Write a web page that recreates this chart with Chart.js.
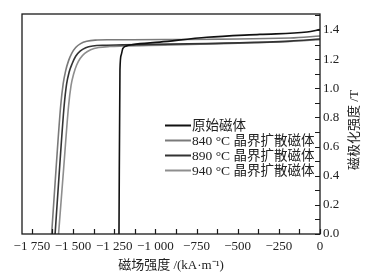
<!DOCTYPE html>
<html>
<head>
<meta charset="utf-8">
<script src="https://cdn.jsdelivr.net/npm/chart.js@4"></script>
<style>
html,body{margin:0;padding:0;background:#fff;}
#wrap{width:366px;height:274px;position:relative;}
</style>
</head>
<body>
<div id="wrap"><canvas id="c" width="366" height="274"></canvas></div>
<script>
// ---- data (H in kA/m, B in T) ----
const seriesLabels = ['原始磁体', '840 °C 晶界扩散磁体', '890 °C 晶界扩散磁体', '940 °C 晶界扩散磁体'];
const hOriginal = [-1221, -1215, -1207, -1198, -1176, -1137, -973, -687, -365, -79, 0];
const bOriginal = [0, 1.128, 1.231, 1.272, 1.290, 1.300, 1.317, 1.350, 1.370, 1.386, 1.403];
const h840 = [-1630, -1603, -1575, -1560, -1545, -1527, -1508, -1484, -1454, -1417, -1365, -1277, -182, 0];
const b840 = [0, 0.45, 0.88, 1.03, 1.12, 1.19, 1.24, 1.28, 1.307, 1.323, 1.331, 1.333, 1.345, 1.359];
const h890 = [-1609, -1582, -1554, -1539, -1524, -1505, -1484, -1457, -1423, -1381, -1308, -1198, -182, 0];
const b890 = [0, 0.45, 0.88, 1.03, 1.11, 1.17, 1.22, 1.255, 1.278, 1.29, 1.296, 1.298, 1.324, 1.338];
const h940 = [-1588, -1557, -1527, -1512, -1496, -1478, -1457, -1429, -1393, -1344, -1277, -1186, -182, 0];
const b940 = [0, 0.45, 0.88, 1.02, 1.10, 1.16, 1.205, 1.24, 1.265, 1.28, 1.287, 1.290, 1.321, 1.334];
const xTickValues = [-1750, -1625, -1500, -1375, -1250, -1125, -1000, -875, -750, -625, -500, -375, -250, -125, 0];
const yTickValues = [0, 0.1, 0.2, 0.3, 0.4, 0.5, 0.6, 0.7, 0.8, 0.9, 1.0, 1.1, 1.2, 1.3, 1.4, 1.5];
const xTitle = '磁场强度 /(kA·m⁻¹)';
const yTitle = '磁极化强度 /T';

const seriesColors = ['#111111', '#7a7a7a', '#333333', '#8e8e8e'];
const FONT = "'Liberation Serif', 'Noto Sans CJK SC', serif";

function pts(h, b) { return h.map((v, i) => ({x: v, y: b[i]})); }

function fmtX(v) {
  if (v === 0) return '0';
  const a = Math.abs(v);
  let s = String(a);
  if (a >= 1000) s = s.slice(0, s.length - 3) + ' ' + s.slice(-3);
  return '\u2212' + s;
}

const framePlugin = {
  id: 'frame',
  afterDraw(chart) {
    const {ctx, chartArea: a} = chart;
    const xs = chart.scales.x, ys = chart.scales.y;
    ctx.save();
    ctx.strokeStyle = '#1a1a1a';
    ctx.lineWidth = 1.3;
    ctx.strokeRect(a.left, a.top, a.right - a.left, a.bottom - a.top);
    ctx.lineWidth = 1.2;
    ctx.beginPath();
    xs.ticks.forEach(t => {
      const px = Math.round(xs.getPixelForValue(t.value)) + 0.5;
      ctx.moveTo(px, a.bottom);
      ctx.lineTo(px, a.bottom - 5);
    });
    ys.ticks.forEach(t => {
      const py = Math.round(ys.getPixelForValue(t.value)) + 0.5;
      ctx.moveTo(a.right, py);
      ctx.lineTo(a.right - 5, py);
    });
    ctx.stroke();
    // y title (reads bottom to top)
    ctx.fillStyle = '#222';
    ctx.font = '13px ' + FONT;
    ctx.textAlign = 'center';
    ctx.textBaseline = 'middle';
    ctx.translate(355, 130);
    ctx.rotate(-Math.PI / 2);
    ctx.fillText(yTitle, 0, 0);
    ctx.restore();
    // legend
    ctx.save();
    ctx.font = '13.5px ' + FONT;
    ctx.textAlign = 'left';
    ctx.textBaseline = 'middle';
    chart.data.datasets.forEach((ds, i) => {
      const y = 125.5 + i * 15;
      ctx.strokeStyle = ds.borderColor;
      ctx.lineWidth = 2;
      ctx.beginPath();
      ctx.moveTo(165, y);
      ctx.lineTo(191, y);
      ctx.stroke();
      ctx.fillStyle = '#222';
      ctx.fillText(ds.label, 192, y + 0.5);
    });
    ctx.restore();
  }
};

const datasets = [
  [hOriginal, bOriginal],
  [h840, b840],
  [h890, b890],
  [h940, b940]
].map((d, i) => ({
  label: seriesLabels[i],
  data: pts(d[0], d[1]),
  borderColor: seriesColors[i],
  borderWidth: 1.6,
  pointRadius: 0,
  fill: false,
  cubicInterpolationMode: 'monotone'
}));

new Chart(document.getElementById('c'), {
  type: 'line',
  data: {datasets},
  plugins: [framePlugin],
  options: {
    responsive: false,
    animation: false,
    devicePixelRatio: 1,
    layout: {padding: {left: 22, top: 14, right: 0, bottom: 0}},
    plugins: {legend: {display: false}, tooltip: {enabled: false}},
    scales: {
      x: {
        type: 'linear',
        position: 'bottom',
        min: -1810,
        max: 0,
        afterBuildTicks(s) { s.ticks = xTickValues.map(v => ({value: v})); },
        afterFit(s) { s.height = 40; },
        grid: {display: false, drawTicks: false},
        border: {display: false},
        ticks: {
          autoSkip: false,
          maxRotation: 0,
          padding: 5,
          color: '#222',
          font: {family: FONT, size: 13},
          callback: v => (Math.round(v) % 250 === 0 ? fmtX(Math.round(v)) : '')
        },
        title: {
          display: true,
          text: xTitle,
          color: '#222',
          font: {family: FONT, size: 13},
          padding: {top: 0, bottom: 1}
        }
      },
      y: {
        type: 'linear',
        position: 'right',
        min: 0,
        max: 1.51,
        afterBuildTicks(s) { s.ticks = yTickValues.map(v => ({value: v})); },
        afterFit(s) { s.width = 46; },
        grid: {display: false, drawTicks: false},
        border: {display: false},
        ticks: {
          autoSkip: false,
          padding: 3,
          color: '#222',
          font: {family: FONT, size: 13},
          callback: v => (Math.round(v * 10) % 2 === 0 ? v.toFixed(1) : '')
        }
      }
    }
  }
});
</script>
</body>
</html>
